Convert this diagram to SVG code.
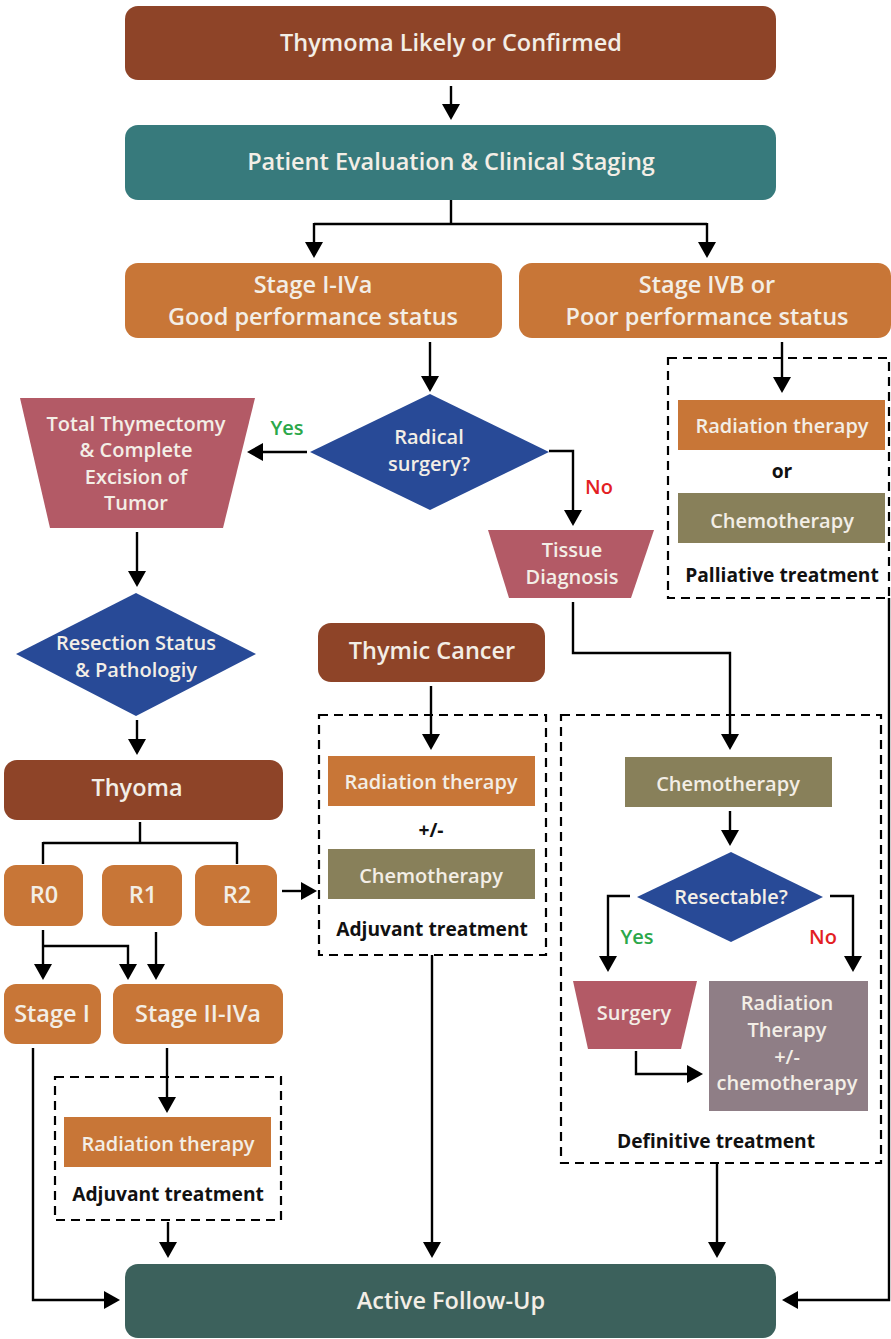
<svg xmlns="http://www.w3.org/2000/svg" width="891" height="1339" viewBox="0 0 891 1339">
  <defs>
    <marker id="arrow" viewBox="0 0 16 18" markerUnits="userSpaceOnUse" markerWidth="16" markerHeight="18" refX="13" refY="9" orient="auto">
      <path d="M0,0 L16,9 L0,18 z" fill="#000"/>
    </marker>
    <style>
      .brown { fill: #8E4428; }
      .teal { fill: #377A7C; }
      .dteal { fill: #3C615C; }
      .orange { fill: #C87637; }
      .blue { fill: #284A97; }
      .rose { fill: #B35A66; }
      .olive { fill: #88805A; }
      .mauve { fill: #8F7E86; }
      text { font-family: "Open Sans", "Liberation Sans", sans-serif; font-weight: 600; text-anchor: middle; }
      .t { fill: #F3EEE6; }
      .big { font-size: 23.5px; }
      .mid { font-size: 20px; }
      .lbl { fill: #111; font-size: 19.2px; font-weight: 700; }
      .yes { fill: #2BA84A; font-size: 20px; }
      .no { fill: #E31E24; font-size: 20px; }
      .conn { fill: none; stroke: #000; stroke-width: 2.4; }
      .arr { marker-end: url(#arrow); }
      .dash { fill: none; stroke: #000; stroke-width: 2.2; stroke-dasharray: 9 6; }
    </style>
  </defs>

  <!-- dashed treatment groupings -->
  <g id="groups">
    <rect class="dash" x="668" y="358" width="221" height="240"/>
    <rect class="dash" x="319" y="715" width="227" height="240"/>
    <rect class="dash" x="561" y="715" width="320" height="448"/>
    <rect class="dash" x="55" y="1077" width="226" height="143"/>
  </g>

  <!-- connectors -->
  <g id="connectors">
    <path class="conn arr" d="M451,86 V117"/>
    <path class="conn" d="M451,200 V224 M314,224 H707"/>
    <path class="conn arr" d="M314,223 V255"/>
    <path class="conn arr" d="M707,223 V255"/>
    <path class="conn arr" d="M430,342 V389"/>
    <path class="conn arr" d="M782,342 V390"/>
    <path class="conn arr" d="M307,452 H250"/>
    <path class="conn arr" d="M549,451 H573 V523"/>
    <path class="conn arr" d="M137,532 V584"/>
    <path class="conn arr" d="M137,720 V752"/>
    <path class="conn" d="M140,822 V843 M43,843 H237 M43,842 V864 M237,842 V864"/>
    <path class="conn arr" d="M282,891 H314"/>
    <path class="conn arr" d="M43,930 V977"/>
    <path class="conn arr" d="M43,946 H128 V977"/>
    <path class="conn arr" d="M156,932 V977"/>
    <path class="conn arr" d="M167,1048 V1110"/>
    <path class="conn arr" d="M168,1222 V1255"/>
    <path class="conn arr" d="M33,1048 V1300 H117"/>
    <path class="conn arr" d="M431,686 V747"/>
    <path class="conn arr" d="M432,955 V1255"/>
    <path class="conn arr" d="M573,602 V653 H730 V747"/>
    <path class="conn arr" d="M730,811 V843"/>
    <path class="conn arr" d="M630,896 H608 V969"/>
    <path class="conn arr" d="M830,896 H853 V969"/>
    <path class="conn arr" d="M636,1051 V1074 H700"/>
    <path class="conn arr" d="M717,1163 V1255"/>
    <path class="conn arr" d="M889,598 V1300 H785"/>
  </g>

  <g id="start">
    <rect class="brown" x="125" y="6" width="651" height="74" rx="13"/>
    <text class="t big" x="451" y="51">Thymoma Likely or Confirmed</text>
  </g>

  <g id="evaluation">
    <rect class="teal" x="125" y="125" width="651" height="75" rx="13"/>
    <text class="t big" x="451" y="170">Patient Evaluation &amp; Clinical Staging</text>
  </g>

  <g id="stage-good">
    <rect class="orange" x="125" y="263" width="377" height="75" rx="13"/>
    <text class="t big" x="313" y="293">Stage I-IVa</text>
    <text class="t big" x="313" y="325">Good performance status</text>
  </g>

  <g id="stage-poor">
    <rect class="orange" x="519" y="263" width="372" height="75" rx="13"/>
    <text class="t big" x="707" y="293">Stage IVB or</text>
    <text class="t big" x="707" y="325">Poor performance status</text>
  </g>

  <g id="radical-surgery">
    <polygon class="blue" points="310,452 430,394 549,452 430,510"/>
    <text class="t mid" x="429" y="444">Radical</text>
    <text class="t mid" x="429" y="471">surgery?</text>
  </g>
  <text class="yes" x="287" y="435">Yes</text>
  <text class="no" x="599" y="494">No</text>

  <g id="thymectomy">
    <polygon class="rose" points="20,398 255,398 223,528 50,528"/>
    <text class="t mid" x="136" y="431">Total Thymectomy</text>
    <text class="t mid" x="136" y="457">&amp; Complete</text>
    <text class="t mid" x="136" y="484">Excision of</text>
    <text class="t mid" x="136" y="510">Tumor</text>
  </g>

  <g id="tissue-diagnosis">
    <polygon class="rose" points="488,530 654,530 631,598 509,598"/>
    <text class="t mid" x="572" y="557">Tissue</text>
    <text class="t mid" x="572" y="584">Diagnosis</text>
  </g>

  <g id="palliative">
    <rect class="orange" x="678" y="400" width="207" height="50"/>
    <text class="t mid" x="782" y="433">Radiation therapy</text>
    <text class="lbl" x="782" y="478">or</text>
    <rect class="olive" x="678" y="493" width="207" height="50"/>
    <text class="t mid" x="782" y="528">Chemotherapy</text>
    <text class="lbl" x="782" y="582">Palliative treatment</text>
  </g>

  <g id="resection-status">
    <polygon class="blue" points="16,654 136,593 256,654 136,716"/>
    <text class="t mid" x="136" y="650">Resection Status</text>
    <text class="t mid" x="136" y="677">&amp; Pathologiy</text>
  </g>

  <g id="thymic-cancer">
    <rect class="brown" x="318" y="623" width="227" height="59" rx="13"/>
    <text class="t big" x="432" y="659">Thymic Cancer</text>
  </g>

  <g id="thyoma">
    <rect class="brown" x="4" y="760" width="279" height="60" rx="13"/>
    <text class="t big" x="137" y="796">Thyoma</text>
  </g>

  <g id="r0">
    <rect class="orange" x="4" y="865" width="79" height="61" rx="12"/>
    <text class="t big" x="44" y="903">R0</text>
  </g>
  <g id="r1">
    <rect class="orange" x="102" y="865" width="80" height="61" rx="12"/>
    <text class="t big" x="143" y="903">R1</text>
  </g>
  <g id="r2">
    <rect class="orange" x="195" y="865" width="82" height="61" rx="12"/>
    <text class="t big" x="237" y="903">R2</text>
  </g>

  <g id="stage-1">
    <rect class="orange" x="4" y="984" width="97" height="60" rx="12"/>
    <text class="t big" x="52" y="1022">Stage I</text>
  </g>
  <g id="stage-2-4a">
    <rect class="orange" x="113" y="984" width="170" height="60" rx="12"/>
    <text class="t big" x="198" y="1022">Stage II-IVa</text>
  </g>

  <g id="adjuvant-rt">
    <rect class="orange" x="64" y="1117" width="207" height="50"/>
    <text class="t mid" x="168" y="1151">Radiation therapy</text>
    <text class="lbl" x="168" y="1201">Adjuvant treatment</text>
  </g>

  <g id="adjuvant-crt">
    <rect class="orange" x="328" y="756" width="207" height="50"/>
    <text class="t mid" x="431" y="789">Radiation therapy</text>
    <text class="lbl" x="431" y="837">+/-</text>
    <rect class="olive" x="328" y="849" width="207" height="50"/>
    <text class="t mid" x="431" y="883">Chemotherapy</text>
    <text class="lbl" x="432" y="936">Adjuvant treatment</text>
  </g>

  <g id="definitive">
    <rect class="olive" x="625" y="757" width="207" height="50"/>
    <text class="t mid" x="728" y="791">Chemotherapy</text>
    <polygon class="blue" points="637,897 731,852 823,897 731,942"/>
    <text class="t mid" x="731" y="904">Resectable?</text>
    <text class="yes" x="637" y="944">Yes</text>
    <text class="no" x="823" y="944">No</text>
    <polygon class="rose" points="573,981 697,981 681,1049 588,1049"/>
    <text class="t mid" x="634" y="1020">Surgery</text>
    <rect class="mauve" x="709" y="981" width="159" height="130"/>
    <text class="t mid" x="787" y="1010">Radiation</text>
    <text class="t mid" x="787" y="1037">Therapy</text>
    <text class="t mid" x="787" y="1064">+/-</text>
    <text class="t mid" x="787" y="1090">chemotherapy</text>
    <text class="lbl" x="716" y="1148">Definitive treatment</text>
  </g>

  <g id="follow-up">
    <rect class="dteal" x="125" y="1264" width="651" height="74" rx="13"/>
    <text class="t big" x="451" y="1309">Active Follow-Up</text>
  </g>
</svg>
